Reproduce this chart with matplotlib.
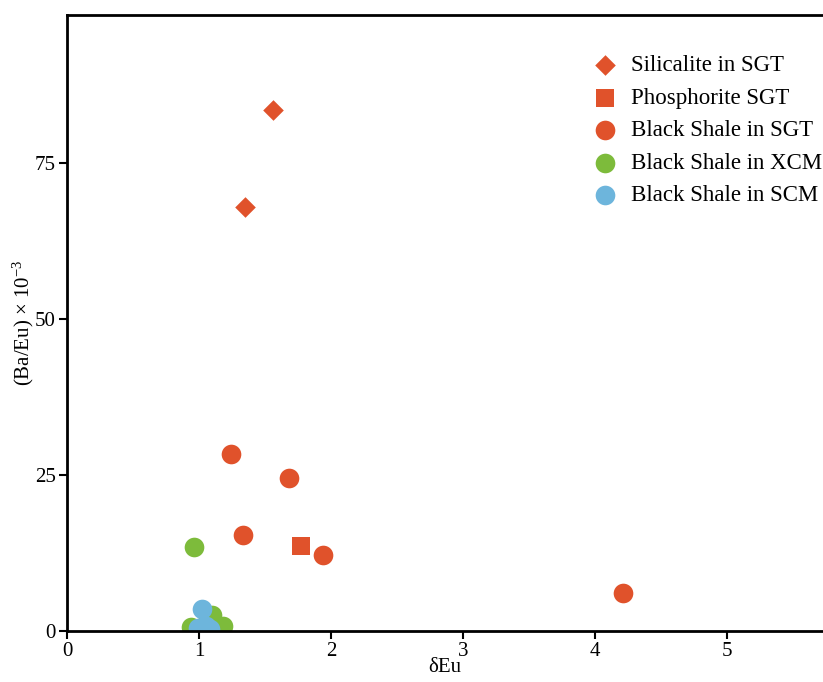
import numpy as np
import matplotlib
matplotlib.use('Agg')
from matplotlib import pyplot as pl

pl.rcParams['font.family'] = ['Liberation Serif', 'DejaVu Serif']
pl.rcParams['mathtext.fontset'] = 'custom'
pl.rcParams['mathtext.rm'] = 'Liberation Serif'
pl.rcParams['mathtext.it'] = 'Liberation Serif:italic'

# (dEu, Ba/Eu x 1e-3)
sil_x = [1.56, 1.35]
sil_y = [83.5, 67.9]

pho_x = [1.77]
pho_y = [13.6]

sgt_x = [1.24, 1.68, 1.33, 1.94, 4.21]
sgt_y = [28.4, 24.5, 15.4, 12.2, 6.1]

xcm_x = [0.96, 1.10, 1.18, 0.94, 1.05, 1.00]
xcm_y = [13.5, 2.6, 0.8, 0.6, 1.2, 0.3]

scm_x = [1.02, 0.99, 1.05, 1.08, 1.01]
scm_y = [3.6, 0.5, 0.8, 0.4, 0.2]

red = '#E0522B'
green = '#7DBB3B'
blue = '#6DB5DC'

fig = pl.figure(figsize=(8.23, 6.82), dpi=100)
ax = fig.add_axes([67/823, 51/682, 1 - 67/823, 616/682])

s = 200
ax.scatter(sil_x, sil_y, marker='D', s=110, color=red, lw=0, label='Silicalite in SGT')
ax.scatter(pho_x, pho_y, marker='s', s=150, color=red, lw=0, label='Phosphorite SGT')
ax.scatter(sgt_x, sgt_y, marker='o', s=s, color=red, lw=0, label='Black Shale in SGT')
ax.scatter(xcm_x, xcm_y, marker='o', s=s, color=green, lw=0, label='Black Shale in XCM')
ax.scatter(scm_x, scm_y, marker='o', s=s, color=blue, lw=0, label='Black Shale in SCM')

ax.set_xlim(0, 756/132)
ax.set_ylim(0, 616/6.24)
ax.set_xticks([0, 1, 2, 3, 4, 5])
ax.set_yticks([0, 25, 50, 75])

for sp in ['left', 'bottom', 'top']:
    ax.spines[sp].set_linewidth(2)
ax.spines['right'].set_visible(False)
ax.tick_params(direction='out', length=6, width=1.5, labelsize=15, colors='black')
ax.tick_params(axis='y', pad=2)
ax.tick_params(axis='x', pad=2)

ax.set_xlabel('δEu', fontsize=15, labelpad=-2)
ax.set_ylabel(r'(Ba/Eu) × 10$^{-3}$', fontsize=15, labelpad=-1)

ax.legend(loc='upper left', bbox_to_anchor=(594/823, 627/682), bbox_transform=fig.transFigure,
          frameon=False, fontsize=16.5, handlelength=1.0, handletextpad=0.6,
          labelspacing=0.5, scatterpoints=1, borderaxespad=0, borderpad=0)

fig.savefig('out.png', dpi=100)
